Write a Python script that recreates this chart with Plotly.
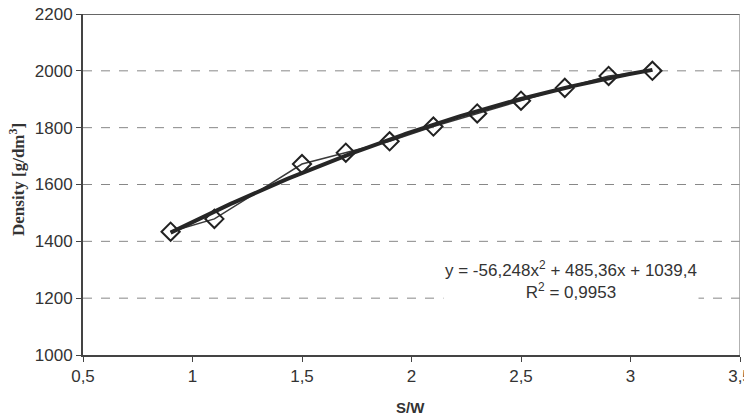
import numpy as np
import plotly.graph_objects as go

sw = [0.9, 1.1, 1.5, 1.7, 1.9, 2.1, 2.3, 2.5, 2.7, 2.9, 3.1]
density = [1434, 1479, 1672, 1712, 1752, 1804, 1850, 1895, 1940, 1982, 2000]
# trendline coefficients as printed on the chart (a*x^2 + b*x + c)
trend_coef = [-56.248, 485.36, 1039.4]
x_ticks = [0.5, 1, 1.5, 2, 2.5, 3, 3.5]
x_tick_labels = ["0,5", "1", "1,5", "2", "2,5", "3", "3,5"]
y_ticks = [1000, 1200, 1400, 1600, 1800, 2000, 2200]

xt = np.linspace(min(sw), max(sw), 200)
yt = np.polyval(trend_coef, xt)

# page body has an 8px margin; the figure is laid out in window pixels minus 8
OFF = 8
W, H = 752 - OFF, 418 - OFF
L, T = 83 - OFF, 14 - OFF
R = 752 - 740
B = 418 - 355
pw, ph = W - L - R, H - T - B


def px(xw):
    return (xw - OFF - L) / pw


def py(yw):
    return (H - B - (yw - OFF)) / ph


fig = go.Figure()
fig.add_trace(go.Scatter(
    x=sw, y=density, mode="lines+markers",
    line=dict(color="#3a3a3a", width=1.5),
    marker=dict(symbol="diamond-open", size=14, color="#222222", line=dict(width=2)),
    showlegend=False, cliponaxis=False))
fig.add_trace(go.Scatter(
    x=xt, y=yt, mode="lines",
    line=dict(color="#262626", width=4),
    showlegend=False))

fig.add_annotation(
    x=px(571), y=py(280), xref="paper", yref="paper",
    xanchor="center", yanchor="middle", showarrow=False,
    text="y = -56,248x<sup>2</sup> + 485,36x + 1039,4<br>R<sup>2</sup> = 0,9953",
    font=dict(family="Liberation Sans, Arial", size=17, color="#333333"),
    bgcolor="white", align="center")

fig.add_annotation(
    x=px(17), y=py(180), xref="paper", yref="paper",
    xanchor="center", yanchor="middle", showarrow=False, textangle=-90,
    text="<b>Density [g/dm<sup>3</sup>]</b>",
    font=dict(family="Liberation Serif, Times New Roman", size=17, color="#333333"))
fig.add_annotation(
    x=px(410), y=py(407), xref="paper", yref="paper",
    xanchor="center", yanchor="middle", showarrow=False,
    text="<b>S/W</b>",
    font=dict(family="Liberation Sans, Arial", size=15, color="#333333"))

fig.update_layout(
    width=W, height=H,
    margin=dict(l=L, r=R, t=T, b=B, autoexpand=False),
    paper_bgcolor="white", plot_bgcolor="white",
    font=dict(family="Liberation Sans, Arial", size=17, color="#333333"),
    xaxis=dict(
        range=[0.5, 3.5], tickvals=x_ticks, ticktext=x_tick_labels,
        showgrid=False, zeroline=False, automargin=False,
        ticklabeloverflow="allow",
        showline=True, linecolor="#444444", linewidth=2, mirror=False,
        ticks="outside", ticklen=5, tickcolor="#444444"),
    yaxis=dict(
        range=[1000, 2200], tickvals=y_ticks,
        showgrid=False, zeroline=False, automargin=False,
        ticklabeloverflow="allow",
        showline=True, linecolor="#444444", linewidth=2,
        ticks="outside", ticklen=5, tickcolor="#444444"),
)

for yv in y_ticks[1:-1]:
    fig.add_shape(type="line", xref="paper", yref="y", x0=0, x1=1, y0=yv, y1=yv,
                  line=dict(color="#888888", width=1, dash="dash"), layer="below")
fig.add_shape(type="line", xref="x", yref="y", x0=0.5, x1=3.5, y0=2200, y1=2200,
              line=dict(color="#666666", width=2))
fig.add_shape(type="line", xref="x", yref="y", x0=3.5, x1=3.5, y0=1000, y1=2200,
              line=dict(color="#999999", width=1.5))

fig.write_html("out.html")
